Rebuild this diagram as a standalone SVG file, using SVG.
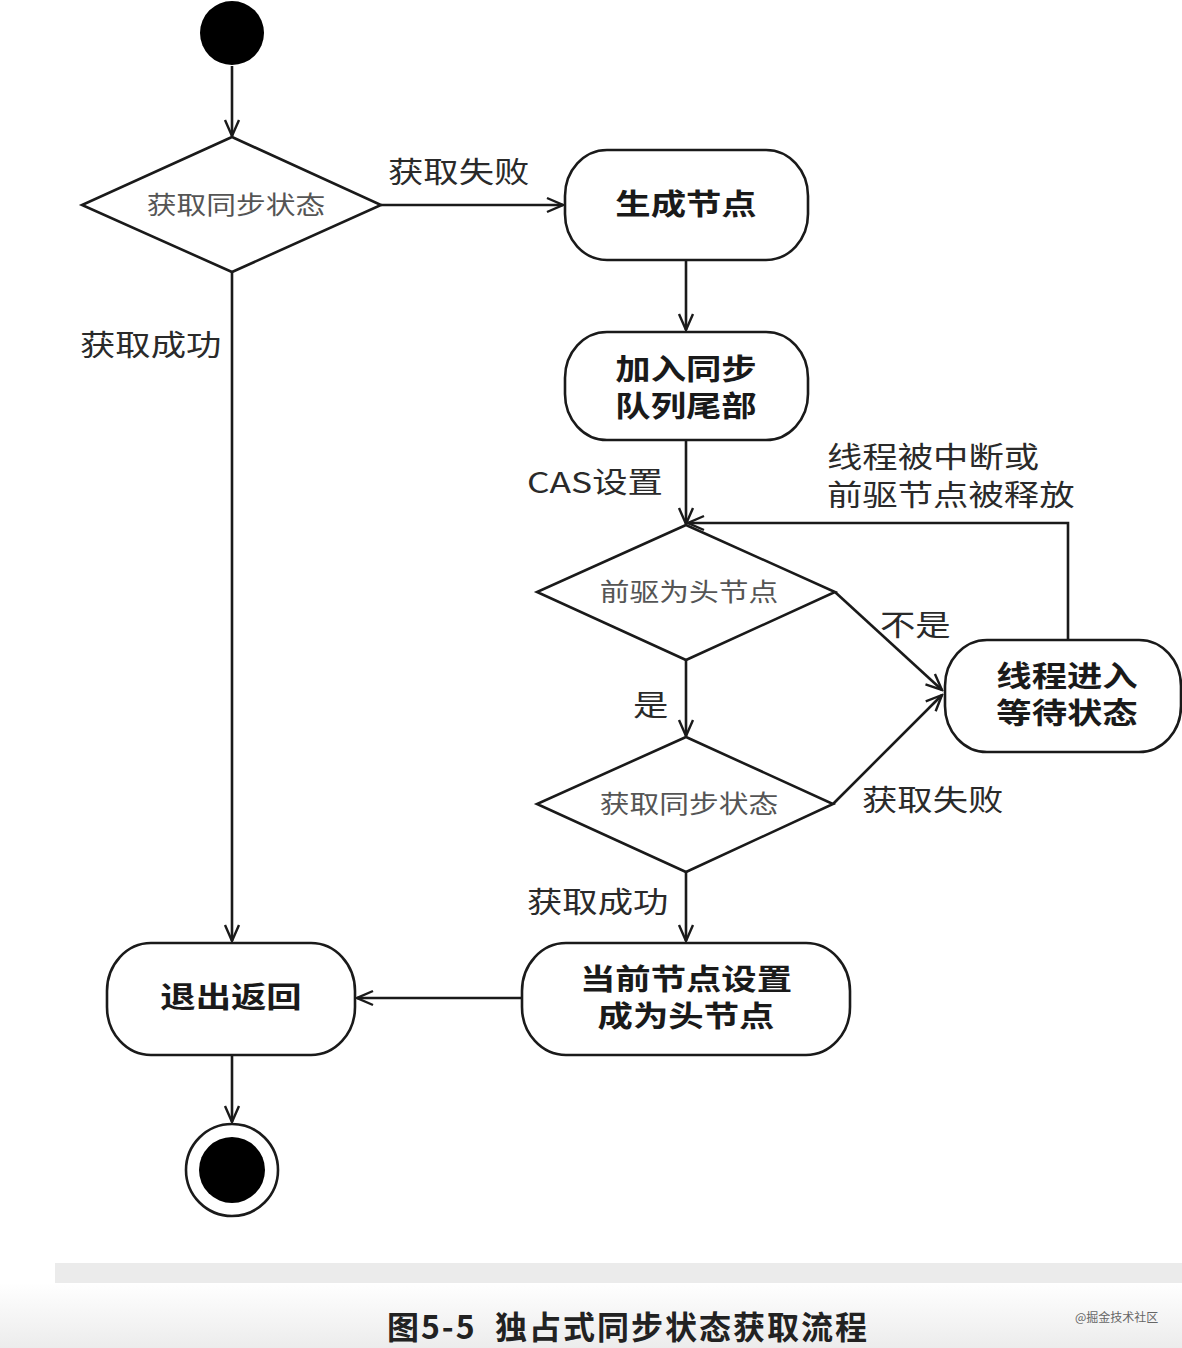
<svg xmlns="http://www.w3.org/2000/svg" width="1182" height="1348" viewBox="0 0 1182 1348">
  <defs>
    <marker id="arrow" viewBox="0 0 20 20" refX="18" refY="10" markerWidth="20" markerHeight="20" markerUnits="userSpaceOnUse" orient="auto">
      <path d="M2,3 L18,10 L2,17" fill="none" stroke="#1a1a1a" stroke-width="2.4"/>
    </marker>
    <linearGradient id="foot" x1="0" y1="0" x2="0" y2="1">
      <stop offset="0" stop-color="#ffffff"/>
      <stop offset="1" stop-color="#ececec"/>
    </linearGradient>
    <style>
      .shape { fill: #ffffff; stroke: #1a1a1a; stroke-width: 2.6; }
      .edge { fill: none; stroke: #1a1a1a; stroke-width: 2.6; marker-end: url(#arrow); }
      .node-text { font-family: "Noto Sans CJK SC", "Noto Sans", sans-serif; font-size: 29px; font-weight: 700; fill: #1a1a1a; text-anchor: middle; }
      .dec-text { font-family: "Noto Sans CJK SC", "Noto Sans", sans-serif; font-size: 25px; fill: #555555; text-anchor: middle; }
      .label { font-family: "Noto Sans CJK SC", "Noto Sans", sans-serif; font-size: 29px; fill: #2a2a2a; }
      .caption { font-family: "Noto Sans CJK SC", sans-serif; font-size: 32px; font-weight: 700; letter-spacing: 2px; fill: #222222; text-anchor: middle; }
      .mark { font-family: "Noto Sans CJK SC", sans-serif; font-size: 12px; fill: #666666; }
    </style>
  </defs>

  <rect x="0" y="0" width="1182" height="1348" fill="#ffffff"/>

  <!-- connectors -->
  <g id="connectors">
    <line class="edge" x1="232" y1="66" x2="232" y2="136"/>
    <line class="edge" x1="381" y1="205" x2="563" y2="205"/>
    <line class="edge" x1="232" y1="272" x2="232" y2="941"/>
    <line class="edge" x1="686" y1="260" x2="686" y2="330"/>
    <line class="edge" x1="686" y1="440" x2="686" y2="524"/>
    <line class="edge" x1="686" y1="660" x2="686" y2="736"/>
    <line class="edge" x1="835" y1="592" x2="942" y2="690"/>
    <line class="edge" x1="833" y1="804" x2="942" y2="695"/>
    <polyline class="edge" points="1068,640 1068,523 688,523"/>
    <line class="edge" x1="686" y1="872" x2="686" y2="941"/>
    <line class="edge" x1="522" y1="998" x2="357" y2="998"/>
    <line class="edge" x1="232" y1="1055" x2="232" y2="1122"/>
  </g>

  <!-- edge labels (glyphs drawn slightly wide) -->
  <g id="edge-labels">
    <text class="label" transform="translate(388,183) scale(1.22,1)">获取失败</text>
    <text class="label" transform="translate(80,356) scale(1.22,1)">获取成功</text>
    <text class="label" transform="translate(527,493) scale(1.22,1)">CAS设置</text>
    <text class="label" transform="translate(827,468) scale(1.22,1)"><tspan x="0" y="0">线程被中断或</tspan><tspan x="0" y="38">前驱节点被释放</tspan></text>
    <text class="label" transform="translate(880,636) scale(1.22,1)">不是</text>
    <text class="label" transform="translate(633,716) scale(1.22,1)">是</text>
    <text class="label" transform="translate(862,811) scale(1.22,1)">获取失败</text>
    <text class="label" transform="translate(527,913) scale(1.22,1)">获取成功</text>
  </g>

  <!-- start -->
  <g id="start">
    <circle cx="232" cy="33" r="32" fill="#000000"/>
  </g>

  <!-- first decision -->
  <g id="acquire-state">
    <polygon class="shape" points="232,137 381,205 232,272 82,205"/>
    <text class="dec-text" transform="translate(236,214) scale(1.19,1)">获取同步状态</text>
  </g>

  <g id="create-node">
    <rect class="shape" x="565" y="150" width="243" height="110" rx="42" ry="46"/>
    <text class="node-text" transform="translate(686,215) scale(1.22,1)">生成节点</text>
  </g>

  <g id="enqueue-tail">
    <rect class="shape" x="565" y="332" width="243" height="108" rx="42" ry="46"/>
    <text class="node-text" transform="translate(686,380) scale(1.22,1)"><tspan x="0" y="0">加入同步</tspan><tspan x="0" y="37">队列尾部</tspan></text>
  </g>

  <g id="pred-is-head">
    <polygon class="shape" points="686,525 835,592 686,660 537,592"/>
    <text class="dec-text" transform="translate(689,601) scale(1.19,1)">前驱为头节点</text>
  </g>

  <g id="acquire-state-2">
    <polygon class="shape" points="686,737 833,804 686,872 537,804"/>
    <text class="dec-text" transform="translate(689,813) scale(1.19,1)">获取同步状态</text>
  </g>

  <g id="wait-state">
    <rect class="shape" x="945" y="640" width="236" height="112" rx="42" ry="46"/>
    <text class="node-text" transform="translate(1067,687) scale(1.22,1)"><tspan x="0" y="0">线程进入</tspan><tspan x="0" y="37">等待状态</tspan></text>
  </g>

  <g id="set-head">
    <rect class="shape" x="522" y="943" width="328" height="112" rx="44" ry="48"/>
    <text class="node-text" transform="translate(686,990) scale(1.22,1)"><tspan x="0" y="0">当前节点设置</tspan><tspan x="0" y="37">成为头节点</tspan></text>
  </g>

  <g id="exit-return">
    <rect class="shape" x="107" y="943" width="248" height="112" rx="44" ry="48"/>
    <text class="node-text" transform="translate(231,1008) scale(1.22,1)">退出返回</text>
  </g>

  <!-- end -->
  <g id="end">
    <circle cx="232" cy="1170" r="46" fill="#ffffff" stroke="#1a1a1a" stroke-width="2.6"/>
    <circle cx="232" cy="1170" r="33" fill="#000000"/>
  </g>

  <!-- footer band and caption -->
  <rect x="0" y="1283" width="1182" height="65" fill="url(#foot)"/>
  <rect x="55" y="1263" width="1127" height="20" fill="#ebebeb"/>
  <text class="caption" x="628" y="1339" xml:space="preserve">图5-5  独占式同步状态获取流程</text>
  <text class="mark" x="1075" y="1322">@掘金技术社区</text>
</svg>
